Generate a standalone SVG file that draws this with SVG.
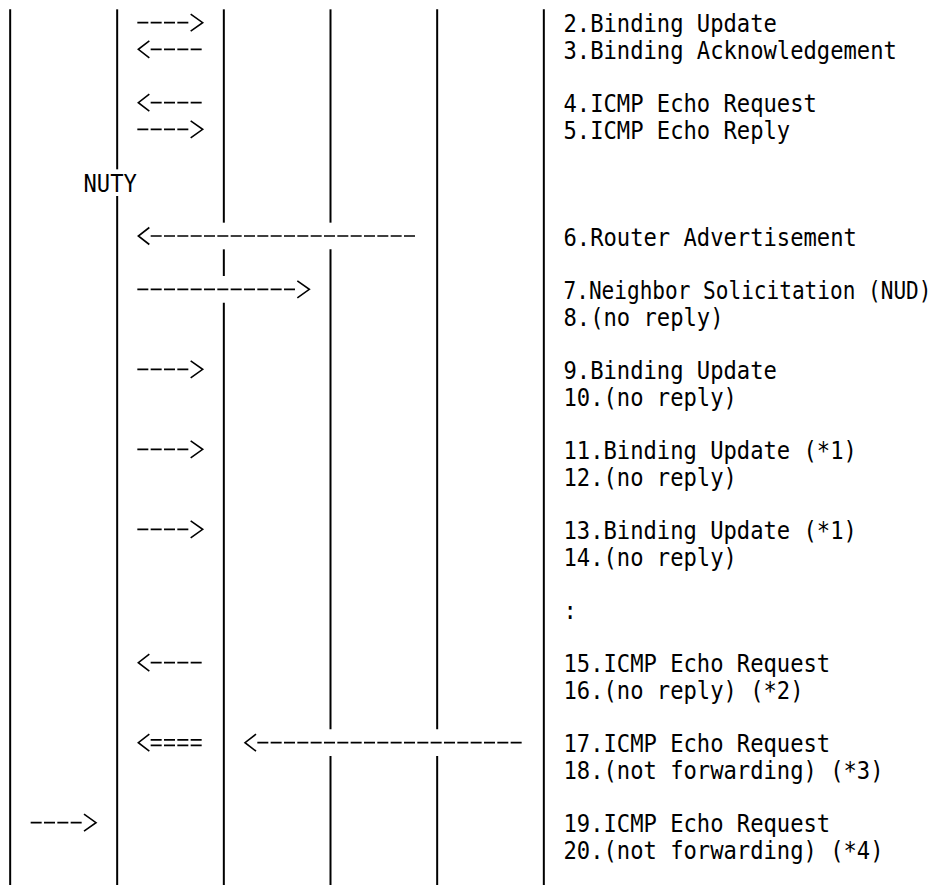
<svg xmlns="http://www.w3.org/2000/svg" xmlns:xlink="http://www.w3.org/1999/xlink" width="947" height="885" viewBox="0 0 947 885">
<style>
.life{stroke:#000;stroke-width:2;fill:none}
.dash{stroke:#000;stroke-width:1.7;stroke-dasharray:11 2.333;fill:none}
.head{stroke:#000;stroke-width:1.6;fill:none;stroke-linejoin:miter}
.t{font-family:"DejaVu Sans Mono","Liberation Mono",monospace;font-size:24.5px;fill:#000}
</style>
<defs>
<path id="hr" class="head" d="M0,-8.5 L12,0 L0,8.5"/>
<path id="hl" class="head" d="M11,-8.5 L0,0 L11,8.5"/>
</defs>
<rect width="947" height="885" fill="#fff"/>
<g id="lifeline-1"><line class="life" x1="10.17" y1="9.33" x2="10.17" y2="885"/></g>
<g id="lifeline-2">
<line class="life" x1="117.17" y1="9.33" x2="117.17" y2="169.33"/>
<line class="life" x1="117.17" y1="196" x2="117.17" y2="885"/>
<text class="t" x="83.5" y="192.23" textLength="53.33" lengthAdjust="spacingAndGlyphs">NUTY</text>
</g>
<g id="lifeline-3">
<line class="life" x1="223.83" y1="9.33" x2="223.83" y2="222.67"/>
<line class="life" x1="223.83" y1="249.33" x2="223.83" y2="276"/>
<line class="life" x1="223.83" y1="302.67" x2="223.83" y2="885"/>
</g>
<g id="lifeline-4">
<line class="life" x1="330.5" y1="9.33" x2="330.5" y2="222.67"/>
<line class="life" x1="330.5" y1="249.33" x2="330.5" y2="729.33"/>
<line class="life" x1="330.5" y1="756" x2="330.5" y2="885"/>
</g>
<g id="lifeline-5">
<line class="life" x1="437.17" y1="9.33" x2="437.17" y2="729.33"/>
<line class="life" x1="437.17" y1="756" x2="437.17" y2="885"/>
</g>
<g id="lifeline-6"><line class="life" x1="543.83" y1="9.33" x2="543.83" y2="885"/></g>
<g id="connectors">
<line class="dash" x1="137.33" y1="22.67" x2="188.33" y2="22.67"/><use xlink:href="#hr" x="190.67" y="22.67"/>
<use xlink:href="#hl" x="138.33" y="49.33"/><line class="dash" x1="150.67" y1="49.33" x2="201.67" y2="49.33"/>
<use xlink:href="#hl" x="138.33" y="102.67"/><line class="dash" x1="150.67" y1="102.67" x2="201.67" y2="102.67"/>
<line class="dash" x1="137.33" y1="129.33" x2="188.33" y2="129.33"/><use xlink:href="#hr" x="190.67" y="129.33"/>
<use xlink:href="#hl" x="138.33" y="236"/><line class="dash" x1="150.67" y1="236" x2="415" y2="236"/>
<line class="dash" x1="137.33" y1="289.33" x2="295" y2="289.33"/><use xlink:href="#hr" x="297.33" y="289.33"/>
<line class="dash" x1="137.33" y1="369.33" x2="188.33" y2="369.33"/><use xlink:href="#hr" x="190.67" y="369.33"/>
<line class="dash" x1="137.33" y1="449.33" x2="188.33" y2="449.33"/><use xlink:href="#hr" x="190.67" y="449.33"/>
<line class="dash" x1="137.33" y1="529.33" x2="188.33" y2="529.33"/><use xlink:href="#hr" x="190.67" y="529.33"/>
<use xlink:href="#hl" x="138.33" y="662.67"/><line class="dash" x1="150.67" y1="662.67" x2="201.67" y2="662.67"/>
<use xlink:href="#hl" x="138.33" y="742.67"/>
<line class="dash" x1="150.67" y1="739.9" x2="201.67" y2="739.9"/>
<line class="dash" x1="150.67" y1="745.4" x2="201.67" y2="745.4"/>
<use xlink:href="#hl" x="245" y="742.67"/><line class="dash" x1="257.33" y1="742.67" x2="521.67" y2="742.67"/>
<line class="dash" x1="30.67" y1="822.67" x2="81.67" y2="822.67"/><use xlink:href="#hr" x="84" y="822.67"/>
</g>
<g id="labels">
<text class="t" x="563.5" y="32.23" textLength="213.33" lengthAdjust="spacingAndGlyphs">2.Binding Update</text>
<text class="t" x="563.5" y="58.9" textLength="333.33" lengthAdjust="spacingAndGlyphs">3.Binding Acknowledgement</text>
<text class="t" x="563.5" y="112.23" textLength="253.33" lengthAdjust="spacingAndGlyphs">4.ICMP Echo Request</text>
<text class="t" x="563.5" y="138.9" textLength="226.67" lengthAdjust="spacingAndGlyphs">5.ICMP Echo Reply</text>
<text class="t" x="563.5" y="245.57" textLength="293.33" lengthAdjust="spacingAndGlyphs">6.Router Advertisement</text>
<text class="t" x="563.5" y="298.9" textLength="368" lengthAdjust="spacingAndGlyphs">7.Neighbor Solicitation (NUD)</text>
<text class="t" x="563.5" y="325.57" textLength="160" lengthAdjust="spacingAndGlyphs">8.(no reply)</text>
<text class="t" x="563.5" y="378.9" textLength="213.33" lengthAdjust="spacingAndGlyphs">9.Binding Update</text>
<text class="t" x="563.5" y="405.57" textLength="173.33" lengthAdjust="spacingAndGlyphs">10.(no reply)</text>
<text class="t" x="563.5" y="458.9" textLength="293.33" lengthAdjust="spacingAndGlyphs">11.Binding Update (*1)</text>
<text class="t" x="563.5" y="485.57" textLength="173.33" lengthAdjust="spacingAndGlyphs">12.(no reply)</text>
<text class="t" x="563.5" y="538.9" textLength="293.33" lengthAdjust="spacingAndGlyphs">13.Binding Update (*1)</text>
<text class="t" x="563.5" y="565.57" textLength="173.33" lengthAdjust="spacingAndGlyphs">14.(no reply)</text>
<text class="t" x="563.5" y="618.9" textLength="13.33" lengthAdjust="spacingAndGlyphs">:</text>
<text class="t" x="563.5" y="672.23" textLength="266.67" lengthAdjust="spacingAndGlyphs">15.ICMP Echo Request</text>
<text class="t" x="563.5" y="698.9" textLength="240" lengthAdjust="spacingAndGlyphs">16.(no reply) (*2)</text>
<text class="t" x="563.5" y="752.23" textLength="266.67" lengthAdjust="spacingAndGlyphs">17.ICMP Echo Request</text>
<text class="t" x="563.5" y="778.9" textLength="320" lengthAdjust="spacingAndGlyphs">18.(not forwarding) (*3)</text>
<text class="t" x="563.5" y="832.23" textLength="266.67" lengthAdjust="spacingAndGlyphs">19.ICMP Echo Request</text>
<text class="t" x="563.5" y="858.9" textLength="320" lengthAdjust="spacingAndGlyphs">20.(not forwarding) (*4)</text>
</g>
</svg>
